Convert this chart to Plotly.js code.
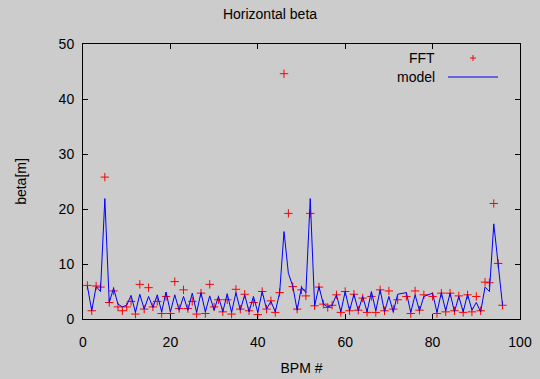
<!DOCTYPE html>
<html>
<head>
<meta charset="utf-8">
<script src="https://cdn.plot.ly/plotly-3.0.1.min.js"></script>
<style>html,body{margin:0;padding:0;background:#cccccc;}#chart{width:540px;height:379px;}</style>
</head>
<body>
<div id="chart"></div>
<script>
var bpm = [1,2,3,4,5,6,7,8,9,10,11,12,13,14,15,16,17,18,19,20,21,22,23,24,25,26,27,28,29,30,31,32,33,34,35,36,37,38,39,40,41,42,43,44,45,46,47,48,49,50,51,52,53,54,55,56,57,58,59,60,61,62,63,64,65,66,67,68,69,70,71,72,74,75,76,77,78,80,81,82,83,84,85,86,87,88,89,90,91,92,93,94,95,96];
var model = [6.0,1.5,5.9,5.0,21.9,3.0,5.6,2.7,2.2,2.5,4.3,1.2,4.5,1.8,4.1,2.1,4.4,1.3,4.9,1.3,4.4,1.6,4.1,1.6,4.7,1.2,4.8,1.3,4.2,1.6,4.1,1.3,4.6,1.2,4.8,1.6,4.4,1.3,4.1,1.2,5.0,1.8,3.2,1.3,4.8,15.9,8.3,6.0,1.6,5.8,4.8,21.9,2.4,5.9,2.7,2.2,2.5,4.4,1.3,5.0,1.5,4.5,1.5,4.1,1.3,5.0,1.5,5.3,1.3,4.1,1.3,4.5,4.8,1.2,4.4,1.5,4.1,4.7,1.2,4.8,1.5,4.7,1.3,4.1,1.3,4.5,1.6,3.0,1.3,5.8,5.0,17.3,10.0,2.5];
var fft = [6.1,1.5,6.0,5.8,25.8,3.0,5.1,2.2,1.5,2.2,3.2,0.9,6.3,1.8,5.7,2.2,3.2,1.0,4.1,1.0,6.8,1.9,5.3,1.9,3.2,0.9,4.7,1.0,6.3,2.2,3.5,1.3,3.5,0.9,5.4,1.8,4.5,1.5,3.0,0.8,5.0,1.8,3.3,1.2,4.8,44.6,19.2,5.9,1.8,5.3,4.2,19.2,2.4,5.8,2.7,2.1,2.5,4.4,1.2,5.0,1.5,4.5,1.6,3.8,1.2,4.1,1.2,5.3,1.5,5.1,1.8,3.5,4.1,1.0,5.1,1.6,4.4,4.1,1.0,4.7,1.3,4.7,1.5,4.2,1.2,4.4,1.3,4.1,1.5,6.7,6.6,21.0,10.1,2.5];
var xTicks = [0,20,40,60,80,100];
var yTicks = [0,10,20,30,40,50];

var font = {family: 'Liberation Sans, Arial, sans-serif', size: 14, color: '#000'};
var traces = [
  {x: bpm, y: fft, type: 'scatter', mode: 'markers', name: 'FFT',
   marker: {symbol: 'cross-thin-open', size: 6, color: '#ff0000', line: {color: '#ff0000', width: 1}}},
  {x: bpm, y: model, type: 'scatter', mode: 'lines', name: 'model',
   line: {color: '#0000ff', width: 1}}
];
var axisCommon = {showline: true, linecolor: '#000', linewidth: 1, mirror: 'ticks', ticks: 'inside', ticklen: 5,
  tickcolor: '#000', showgrid: false, zeroline: false, tickfont: font};
var layout = {
  width: 540, height: 379,
  paper_bgcolor: '#cccccc', plot_bgcolor: '#cccccc',
  margin: {l: 83, r: 20, t: 44, b: 60},
  showlegend: false,
  title: {text: 'Horizontal beta', font: font, x: 0.5, xanchor: 'center', y: 1 - 14/379, yanchor: 'middle'},
  xaxis: Object.assign({}, axisCommon, {range: [0, 100], tickvals: xTicks, ticklabelstandoff: 10,
    title: {text: 'BPM #', font: font, standoff: 14}}),
  yaxis: Object.assign({}, axisCommon, {range: [0, 50], tickvals: yTicks, ticklabelstandoff: 5,
    title: {text: 'beta[m]', font: font, standoff: 28}}),
  annotations: [
    {xref: 'paper', yref: 'paper', x: (437-83)/437, y: (319-58)/275, xanchor: 'right', yanchor: 'middle',
     text: 'FFT', showarrow: false, font: font},
    {xref: 'paper', yref: 'paper', x: (437-83)/437, y: (319-77)/275, xanchor: 'right', yanchor: 'middle',
     text: 'model', showarrow: false, font: font}
  ],
  shapes: [
    {type: 'line', xref: 'paper', yref: 'paper', x0: (448-83)/437, x1: (498-83)/437, y0: (319-77)/275, y1: (319-77)/275,
     line: {color: '#0000ff', width: 1}},
    {type: 'line', xref: 'paper', yref: 'paper', x0: (470-83)/437, x1: (476-83)/437, y0: (319-58)/275, y1: (319-58)/275,
     line: {color: '#ff0000', width: 1}},
    {type: 'line', xref: 'paper', yref: 'paper', x0: (473-83)/437, x1: (473-83)/437, y0: (319-55)/275, y1: (319-61)/275,
     line: {color: '#ff0000', width: 1}}
  ]
};
Plotly.newPlot('chart', traces, layout, {displayModeBar: false, staticPlot: true});
</script>
</body>
</html>
